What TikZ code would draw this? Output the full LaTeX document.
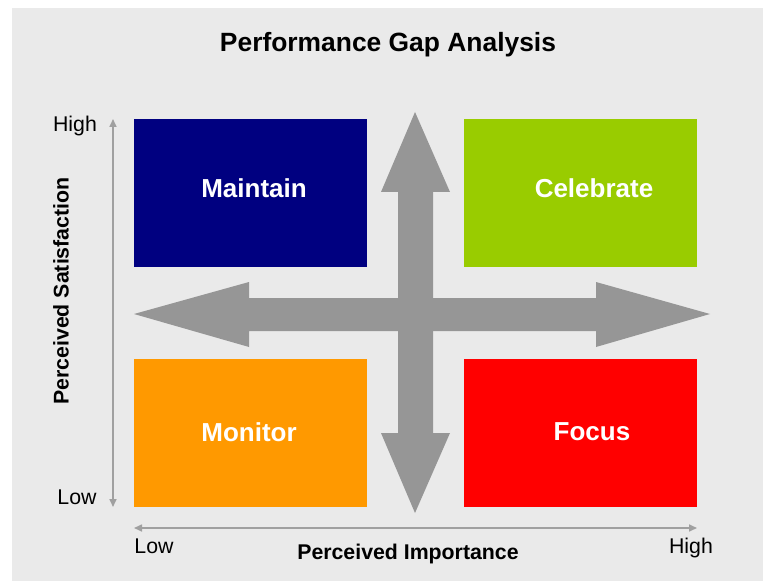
\documentclass[tikz,border=0pt]{standalone}
\usepackage{fontspec}
\setmainfont{Liberation Sans}
\usetikzlibrary{arrows.meta}
\definecolor{panelgray}{HTML}{EAEAEA}
\definecolor{arrowgray}{HTML}{969696}
\definecolor{axisgray}{HTML}{A0A0A0}
\definecolor{navyq}{HTML}{000080}
\definecolor{limeq}{HTML}{99CC00}
\definecolor{orangeq}{HTML}{FF9900}
\definecolor{redq}{HTML}{FF0000}
\begin{document}
\begin{tikzpicture}[x=1bp,y=-1bp,
  quadlabel/.style={text=white,font=\fontsize{26bp}{30bp}\selectfont\bfseries},
  ticklabel/.style={font=\fontsize{21.3bp}{25bp}\selectfont,inner sep=0pt},
  axislabel/.style={font=\fontsize{21.3bp}{25bp}\selectfont\bfseries,inner sep=0pt},
  axisline/.style={draw=axisgray,line width=1.6bp,{Triangle[length=8bp,width=7bp]}-{Triangle[length=8bp,width=7bp]}},
  bigarrow/.style={fill=arrowgray,draw=none}]
  % page and panel
  \useasboundingbox (0,0) rectangle (763,581);
  \fill[white] (0,0) rectangle (763,581);
  \fill[panelgray] (12,8) rectangle (763,581);

  % title
  \node[font=\fontsize{26.4bp}{30bp}\selectfont\bfseries,inner sep=0pt] (title) at (388,45) {Performance Gap Analysis};

  % quadrants
  \fill[navyq]   (134,119) rectangle (367,267);
  \fill[limeq]   (464,119) rectangle (697,267);
  \fill[orangeq] (134,359) rectangle (367,507);
  \fill[redq]    (464,359) rectangle (697,507);

  % crossing double arrows
  \fill[bigarrow] (134,314) -- (249,282) -- (249,298) -- (596,298) -- (596,282)
    -- (710,314) -- (596,347) -- (596,331) -- (249,331) -- (249,347) -- cycle;
  \fill[bigarrow] (415,112) -- (450,192) -- (433,192) -- (433,433) -- (450,433)
    -- (415,513) -- (381,433) -- (398,433) -- (398,192) -- (381,192) -- cycle;

  % quadrant labels
  \node[quadlabel] (maintain)  at (254,188) {Maintain};
  \node[quadlabel] (celebrate) at (594,188) {Celebrate};
  \node[quadlabel] (monitor)   at (249,432) {Monitor};
  \node[quadlabel] (focus)     at (592,432) {Focus};

  % axes
  \coordinate (ytop) at (113,119);
  \coordinate (ybot) at (113,507);
  \coordinate (xleft) at (134,528);
  \coordinate (xright) at (697,528);
  \draw[axisline] (ybot) -- (ytop);
  \draw[axisline] (xleft) -- (xright);

  % axis labels
  \node[ticklabel] (yhigh) at (75,126) {High};
  \node[ticklabel] (ylow)  at (77,497) {Low};
  \node[ticklabel] (xlow)  at (154,546) {Low};
  \node[ticklabel] (xhigh) at (691,548) {High};
  \node[axislabel] (xname) at (408,554) {Perceived Importance};
  \node[axislabel,rotate=90] (yname) at (61,291) {Perceived Satisfaction};
\end{tikzpicture}
\end{document}
